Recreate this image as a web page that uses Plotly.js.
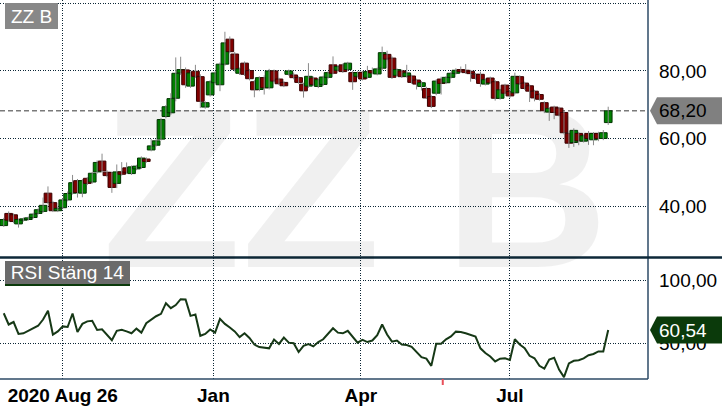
<!DOCTYPE html>
<html><head><meta charset="utf-8">
<script src="https://cdn.plot.ly/plotly-3.0.1.min.js"></script>
<style>html,body{margin:0;padding:0;background:#fff}#chart{width:722px;height:411px}</style>
</head><body><div id="chart"></div>
<script>
// ---- data ----
const instrument = 'ZZ B';
const rsiTitle = 'RSI Stäng 14';
const startDate = '2020-08-26';
const stepDays = 3;
const openP  = [34.2,37.8,37.4,34.7,35.8,36.0,36.6,37.8,38.4,43.8,41.0,38.6,39.5,41.8,43.8,47.5,43.8,48.2,47.1,50.1,53.3,50.0,49.9,46.7,50.1,51.3,49.6,51.0,51.4,53.9,56.6,58.0,59.8,66.5,67.6,71.9,79.4,80.3,75.5,79.9,78.3,69.3,72.9,76.5,75.9,82.0,89.4,85.0,79.3,82.3,80.1,76.8,74.5,78.0,75.0,80.0,77.6,76.6,79.0,78.8,78.0,76.1,75.5,77.9,75.4,76.0,78.1,81.8,80.2,81.8,80.4,79.5,78.4,79.6,78.1,80.1,79.1,80.8,84.9,83.8,78.7,80.0,78.4,78.5,77.3,75.4,74.8,72.4,73.4,77.6,76.5,78.1,79.3,80.4,80.2,79.9,79.0,79.0,76.1,77.9,76.8,71.9,75.8,73.9,73.5,78.3,76.4,75.6,74.0,73.0,70.6,67.8,69.3,69.0,67.7,61.5,58.8,61.5,59.2,61.5,59.6,61.5,60.0,64.7];
const closeP = [36.0,35.8,35.4,36.0,36.2,36.5,37.6,38.9,40.2,41.0,38.6,39.3,41.8,43.7,46.9,44.0,47.5,46.7,49.7,52.9,50.4,49.0,45.5,50.1,49.4,50.0,51.6,51.8,54.2,53.2,57.8,59.3,65.6,69.4,71.8,79.3,80.4,75.9,79.4,78.4,71.0,70.6,76.8,79.4,82.0,88.3,85.7,80.5,80.6,79.0,77.7,74.4,78.0,75.0,80.0,77.0,76.2,75.6,80.0,78.0,76.6,74.1,78.4,76.0,77.4,78.2,79.5,79.3,81.3,79.8,82.3,76.8,79.5,77.6,79.8,79.4,80.6,85.4,83.5,78.1,80.4,78.3,79.4,76.6,76.1,76.5,72.0,69.5,77.0,76.3,78.1,79.3,80.2,79.8,79.5,79.2,77.8,76.3,77.4,76.5,71.9,74.4,73.4,72.6,78.4,76.2,74.8,74.0,72.0,71.6,68.2,68.9,67.7,66.9,61.7,58.6,62.4,59.3,60.8,60.0,61.5,60.0,61.7,68.2];
const highP  = [36.5,38.4,37.8,36.3,36.6,36.9,38.0,39.3,42.5,45.8,41.5,39.8,42.3,44.3,49.2,48.0,48.0,48.6,50.1,53.5,55.5,50.6,50.2,52.3,53.0,52.9,52.0,52.2,54.7,54.4,59.8,59.8,66.0,69.9,73.4,84.0,84.2,81.0,79.9,81.8,79.0,71.0,77.3,79.9,82.5,91.6,90.2,85.6,81.0,82.8,80.6,77.3,78.4,78.7,80.6,80.4,78.0,77.0,80.4,79.5,78.4,76.5,82.3,78.3,77.8,78.6,79.9,84.3,81.7,82.2,82.7,80.0,79.9,80.0,81.5,81.0,81.0,87.2,86.0,84.3,80.8,80.4,81.8,78.9,77.7,77.0,75.3,72.8,77.5,78.3,78.5,79.7,80.8,81.3,82.0,80.3,79.4,79.8,77.8,78.3,77.3,74.8,76.2,74.3,79.5,78.7,76.8,76.0,74.4,73.4,71.0,69.3,69.7,69.4,68.0,62.0,63.0,61.9,61.2,62.2,61.9,62.0,62.5,69.4];
const lowP   = [33.8,35.3,34.9,33.6,35.4,35.7,36.3,37.5,38.0,40.5,38.2,38.2,39.2,41.4,43.4,42.5,42.6,46.2,46.6,49.6,49.8,48.5,43.9,45.3,49.0,49.5,49.2,50.6,51.0,52.8,56.2,57.6,59.4,66.0,67.0,71.0,78.8,75.0,75.0,77.9,69.0,68.8,72.4,76.0,74.0,81.5,85.2,79.8,78.8,78.5,77.2,72.2,74.0,73.0,74.5,76.5,75.8,75.2,78.6,77.5,76.2,72.1,75.0,75.5,74.9,75.6,77.7,79.0,79.8,79.4,80.0,74.4,78.0,77.2,77.7,79.0,78.7,80.2,82.8,77.6,78.3,77.9,78.0,76.2,74.5,74.2,71.7,69.0,72.8,73.0,76.1,77.7,78.9,79.4,79.1,76.8,77.4,75.3,75.7,76.1,71.2,71.5,73.0,72.0,73.0,75.8,74.4,70.8,71.0,71.2,67.5,65.2,65.7,66.5,61.2,57.2,57.5,58.0,58.8,58.1,58.0,59.2,59.5,64.0];
const rsi14  = [74,65,67,57.5,58,60,61.8,64,69,76,57,59.5,63.5,63,73.8,59,65.5,67.5,68,60.6,61.2,57,52.5,60,60.8,59.5,58,61.7,58.5,66,69,71.6,73.5,82,78,80.5,85.2,85,71.9,73,56,57.5,61,58.5,69.5,65.5,62.6,59.5,55,58,54.3,49,47,46.2,46,53,49.5,54.6,50.5,50,43,48,49.4,47.5,51,53.2,58,62,58.5,58,60,55,50.5,52.7,51,52.2,56.5,65,57,51.3,52.2,49,48.6,47.2,43,38.9,37.8,32,49.6,49.6,53.2,55.5,59.3,59,58,56.5,55.3,46,42.2,39.5,35.5,37.7,38,36.7,53.2,49,46,40,38,32,29.8,37,38.5,29,23,34,36,36.5,38,40.5,41.5,43.5,43.4,60.54];
const tickDates  = ['2020-10-01','2021-01-01','2021-04-01','2021-07-01'];
const tickLabels = ['2020 Aug 26','Jan','Apr','Jul'];
const priceTicks = [40,60,80,100];
const priceTickLabels = ['40,00','60,00','80,00',''];
const rsiTicks = [50,100];
const rsiTickLabels = ['50,00','100,00'];
const eventDates = ['2021-05-21'];

// ---- build ----
const DAY = 86400000;
const t0 = new Date(startDate + 'T00:00:00Z').getTime();
const dates = openP.map((_, i) => new Date(t0 + i * stepDays * DAY).toISOString().slice(0, 10));
const fmt = v => v.toFixed(2).replace('.', ',');

const wx = [], wy = [];
dates.forEach((d, i) => { wx.push(d, d, null); wy.push(lowP[i], highP[i], null); });
const up = openP.map((o, i) => closeP[i] >= o);
const bodyBase = openP.map((o, i) => Math.min(o, closeP[i]));
const bodyLen = openP.map((o, i) => Math.max(Math.abs(closeP[i] - o), 0.25));

const wicks = {x: wx, y: wy, type: 'scatter', mode: 'lines', line: {color: '#8a8a8a', width: 1}, hoverinfo: 'skip', xaxis: 'x', yaxis: 'y'};
const bodies = {
  x: dates, y: bodyLen, base: bodyBase, type: 'bar', width: 4.7 * DAY,
  marker: {color: up.map(u => u ? '#008000' : '#800000'), line: {color: up.map(u => u ? '#003300' : '#3a0000'), width: 1}},
  xaxis: 'x', yaxis: 'y'
};
const rsiLine = {x: dates, y: rsi14, type: 'scatter', mode: 'lines', line: {color: '#163816', width: 2}, xaxis: 'x2', yaxis: 'y2'};

const plotW = 648, plotH = 379;
const px = v => v / plotW;
const py = v => 1 - v / plotH;
const lastClose = closeP[closeP.length - 1];
const lastRsi = rsi14[rsi14.length - 1];
const xRange = ['2020-08-23 17:00', '2021-09-23 07:00'];
const gridCol = '#0c2636';
const gridDash = '1px,1.5px';
const font = 'Liberation Sans, Arial, sans-serif';

const tagPath = `M ${px(650)},0 L ${px(657)},13.5 L ${px(722)},13.5 L ${px(722)},-13.5 L ${px(657)},-13.5 Z`;

const layout = {
  width: 722, height: 411,
  margin: {l: 0, r: 74, t: 0, b: 32, pad: 0},
  paper_bgcolor: '#ffffff', plot_bgcolor: 'rgba(0,0,0,0)',
  showlegend: false, barmode: 'overlay', bargap: 0,
  font: {family: font, size: 19, color: '#000'},
  xaxis: {type: 'date', range: xRange, anchor: 'y', tickmode: 'array', tickvals: tickDates, showticklabels: false,
          showgrid: true, gridcolor: gridCol, gridwidth: 1, griddash: gridDash, zeroline: false, showline: false, ticks: '', fixedrange: true},
  xaxis2: {type: 'date', range: xRange, anchor: 'y2', tickmode: 'array', tickvals: tickDates, ticktext: tickLabels,
           tickfont: {family: font, size: 19, color: '#000', weight: 700}, ticklabelstandoff: 3,
           showgrid: true, gridcolor: gridCol, gridwidth: 1, griddash: gridDash, zeroline: false, showline: false, ticks: '', fixedrange: true},
  yaxis: {domain: [0.3219, 1], anchor: 'x', side: 'right', range: [24.9, 101.0], tickmode: 'array', tickvals: priceTicks, ticktext: priceTickLabels,
          showgrid: true, gridcolor: gridCol, gridwidth: 1, griddash: gridDash, zeroline: false, showline: false, ticks: '', ticklabelstandoff: 10, fixedrange: true},
  yaxis2: {domain: [0, 0.3193], anchor: 'x2', side: 'right', range: [21.5, 118.1], tickmode: 'array', tickvals: rsiTicks, ticktext: rsiTickLabels,
           showgrid: true, gridcolor: gridCol, gridwidth: 1, griddash: gridDash, zeroline: false, showline: false, ticks: '', ticklabelstandoff: 10, fixedrange: true},
  shapes: [
    {type: 'line', layer: 'below', xref: 'paper', yref: 'y', x0: 0, x1: 1, y0: lastClose, y1: lastClose, line: {color: '#7a7a7a', width: 1.5, dash: '5px,3px'}},
    {type: 'line', xref: 'paper', yref: 'paper', x0: 1, x1: 1, y0: 0, y1: 1, line: {color: '#2c4a66', width: 1.5}},
    {type: 'line', xref: 'paper', yref: 'paper', x0: 0, x1: 1, y0: 0, y1: 0, line: {color: '#2c4a66', width: 1.5}},
    {type: 'line', xref: 'paper', yref: 'paper', x0: 0, x1: px(722), y0: py(257.5), y1: py(257.5), line: {color: '#0d2838', width: 2.5}},
    {type: 'path', xref: 'paper', yref: 'y', ysizemode: 'pixel', yanchor: lastClose, path: tagPath, fillcolor: '#808080', line: {width: 0}},
    {type: 'path', xref: 'paper', yref: 'y2', ysizemode: 'pixel', yanchor: lastRsi, path: tagPath, fillcolor: '#0b3a0b', line: {width: 0}},
    {type: 'line', xref: 'paper', yref: 'paper', x0: px(5), x1: px(130), y0: py(285), y1: py(285), line: {color: '#0b3a0b', width: 2}},
    ...eventDates.map(d => ({type: 'line', xref: 'x2', yref: 'paper', x0: d, x1: d, y0: 0, y1: -6 / plotH, line: {color: '#e8505a', width: 2}}))
  ],
  annotations: [
    {text: instrument, xref: 'paper', yref: 'paper', x: px(355.5), y: py(188), xanchor: 'center', yanchor: 'middle', showarrow: false,
     font: {family: font, size: 228, weight: 700, color: 'rgba(0,0,0,0.06)'}},
    {text: instrument, xref: 'paper', yref: 'paper', x: px(5), y: py(3), xanchor: 'left', yanchor: 'top', showarrow: false,
     width: 53, height: 26, bgcolor: '#888888', borderpad: 0, borderwidth: 0, align: 'center', valign: 'middle', font: {family: font, size: 19, color: '#ffffff'}},
    {text: rsiTitle, xref: 'paper', yref: 'paper', x: px(5), y: py(261), xanchor: 'left', yanchor: 'top', showarrow: false,
     width: 125, height: 23, bgcolor: '#6b6b6b', borderpad: 0, borderwidth: 0, align: 'center', valign: 'middle', font: {family: font, size: 19, color: '#ffffff'}},
    {text: fmt(lastClose), xref: 'paper', yref: 'y', x: px(657), y: lastClose, xanchor: 'left', yanchor: 'middle', showarrow: false,
     font: {family: font, size: 19, color: '#000000'}},
    {text: fmt(lastRsi), xref: 'paper', yref: 'y2', x: px(657), y: lastRsi, xanchor: 'left', yanchor: 'middle', showarrow: false,
     font: {family: font, size: 19, color: '#ffffff'}}
  ]
};

Plotly.newPlot('chart', [wicks, bodies, rsiLine], layout, {staticPlot: true, displayModeBar: false});
</script>
</body></html>
